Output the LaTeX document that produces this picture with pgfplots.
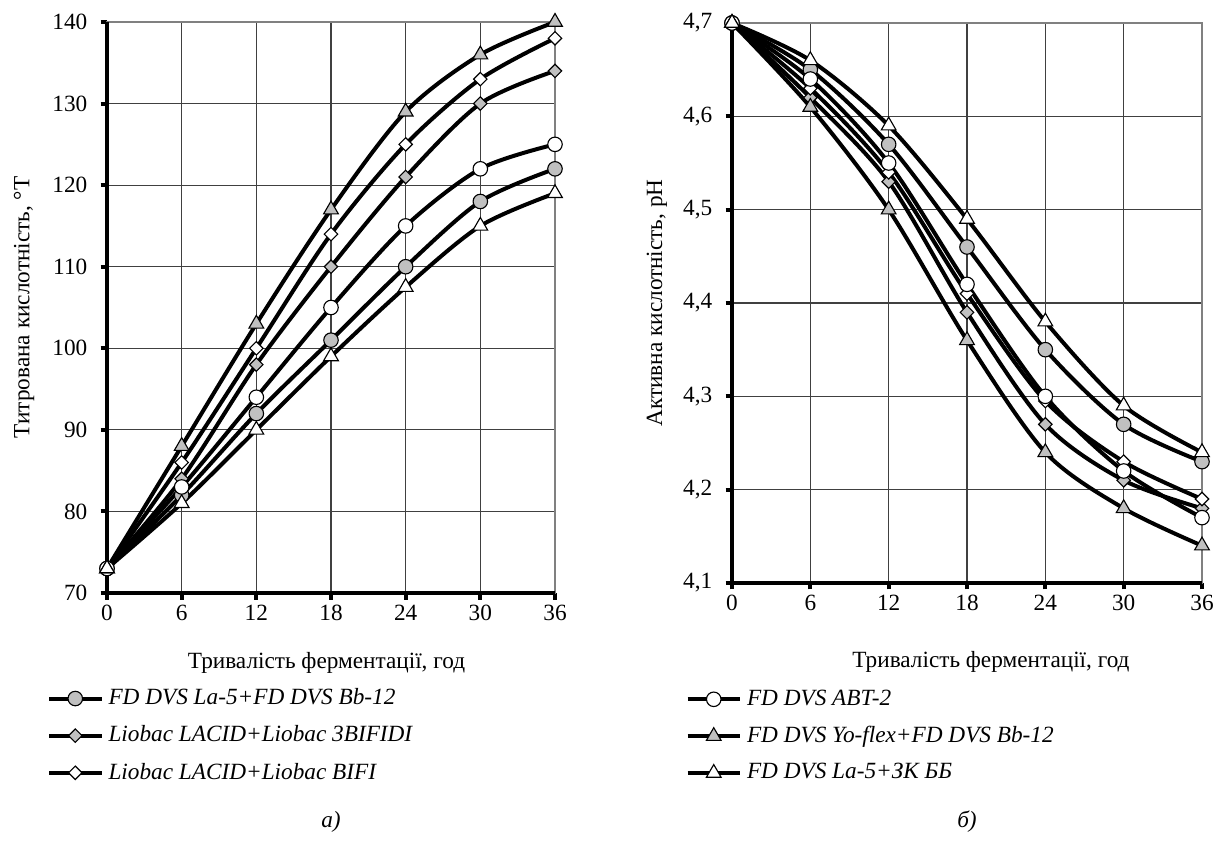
\documentclass[border=0pt]{standalone}
\usepackage{fontspec}
\setmainfont{Liberation Serif}
\usepackage{pgfplots}
\pgfplotsset{compat=1.18}

\definecolor{mgray}{RGB}{192,192,192}
\definecolor{fgray}{RGB}{128,128,128}

\tikzset{mo/.style={solid, draw=black, line width=0.45pt, fill=#1}}

% 1 px of the reference = 0.4pt
\pgfplotsset{
  panel/.style={
    scale only axis, clip=false,
    xmin=0, xmax=36, xtick={0,6,...,36},
    grid=major, major grid style={black!75, line width=0.5pt},
    axis line style={fgray, line width=0.8pt},
    tick pos=left, tick align=outside, major tick length=2.6pt,
    major tick style={black, line width=1.6pt},
    yticklabel style={xshift=-2pt},
    xticklabel style={yshift=1pt},
    /pgf/number format/assume math mode=true,
    legend cell align=left,
    legend style={draw=none, fill=none, inner sep=0pt, font=\itshape,
      row sep=3pt, anchor=north west},
    legend image code/.code={
      \draw[mark repeat=2, mark phase=2, ##1]
        plot coordinates {(0pt,0pt) (10.5pt,0pt) (21pt,0pt)};},
  },
  s/.style={black, line width=1.6pt, smooth, tension=0.5},
  gc/.style={s, mark=*, mark size=2.9pt, mark options={mo=mgray}},
  wc/.style={s, mark=*, mark size=2.9pt, mark options={mo=white}},
  gd/.style={s, mark=square*, mark size=1.9pt, mark options={mo=mgray, rotate=45}},
  wd/.style={s, mark=square*, mark size=1.9pt, mark options={mo=white, rotate=45}},
  gt/.style={s, mark=triangle*, mark size=3.4pt, mark options={mo=mgray}},
  wt/.style={s, mark=triangle*, mark size=3.4pt, mark options={mo=white}},
}

\begin{document}
\fontsize{9.3}{11}\selectfont
\begin{tikzpicture}
\useasboundingbox (0,0) rectangle (487.6pt,-338pt);

% ---- a) titratable acidity
\begin{axis}[panel,
  at={(42.8pt,-8.8pt)}, anchor=north west,
  width=179.2pt, height=228.4pt,
  ymin=70, ymax=140, ytick={70,80,...,140},
  xlabel={Тривалість ферментації, год},
  xlabel style={at={(axis description cs:0.49,-0.1226)}, anchor=center},
  ylabel={Титрована кислотність, °Т},
  ylabel style={at={(axis description cs:-0.185,0.5)}, anchor=center},
  legend style={at={(axis description cs:-0.135,-0.158)}},
]
\draw[black, line width=1.6pt] (rel axis cs:0,1) -- (rel axis cs:0,0) -- (rel axis cs:1,0);

\addplot[gc] coordinates {(0,73) (6,82) (12,92) (18,101) (24,110) (30,118) (36,122)};
\addlegendentry{FD DVS La-5+FD DVS Bb-12}
\addplot[gd] coordinates {(0,73) (6,84) (12,98) (18,110) (24,121) (30,130) (36,134)};
\addlegendentry{Liobac LACID+Liobac 3BIFIDI}
\addplot[wd] coordinates {(0,73) (6,86) (12,100) (18,114) (24,125) (30,133) (36,138)};
\addlegendentry{Liobac LACID+Liobac BIFI}
\addplot[wc, forget plot] coordinates {(0,73) (6,83) (12,94) (18,105) (24,115) (30,122) (36,125)};
\addplot[gt, forget plot] coordinates {(0,73) (6,88) (12,103) (18,117) (24,129) (30,136) (36,140)};
\addplot[wt, forget plot] coordinates {(0,73) (6,81) (12,90) (18,99) (24,107.5) (30,115) (36,119)};

\node[font=\itshape] at (axis description cs:0.5,-0.401) {а)};
\end{axis}

% ---- b) active acidity
\begin{axis}[panel,
  at={(292.8pt,-9.2pt)}, anchor=north west,
  width=188pt, height=224pt,
  ymin=4.1, ymax=4.7, ytick={4.1,4.2,...,4.71},
  yticklabel style={/pgf/number format/.cd, fixed, fixed zerofill, precision=1, use comma},
  xlabel={Тривалість ферментації, год},
  xlabel style={at={(axis description cs:0.551,-0.141)}, anchor=center},
  ylabel={Активна кислотність, рН},
  ylabel style={at={(axis description cs:-0.16,0.5)}, anchor=center},
  legend style={at={(axis description cs:-0.1,-0.181)}},
]
\draw[black, line width=1.6pt] (rel axis cs:0,1) -- (rel axis cs:0,0) -- (rel axis cs:1,0);

\addplot[gc, forget plot] coordinates {(0,4.7) (6,4.65) (12,4.57) (18,4.46) (24,4.35) (30,4.27) (36,4.23)};
\addplot[gd, forget plot] coordinates {(0,4.7) (6,4.62) (12,4.53) (18,4.39) (24,4.27) (30,4.21) (36,4.18)};
\addplot[wd, forget plot] coordinates {(0,4.7) (6,4.63) (12,4.54) (18,4.41) (24,4.295) (30,4.23) (36,4.19)};
\addplot[wc] coordinates {(0,4.7) (6,4.64) (12,4.55) (18,4.42) (24,4.30) (30,4.22) (36,4.17)};
\addlegendentry{FD DVS ABT-2}
\addplot[gt] coordinates {(0,4.7) (6,4.61) (12,4.50) (18,4.36) (24,4.24) (30,4.18) (36,4.14)};
\addlegendentry{FD DVS Yo-flex+FD DVS Bb-12}
\addplot[wt] coordinates {(0,4.7) (6,4.66) (12,4.59) (18,4.49) (24,4.38) (30,4.29) (36,4.24)};
\addlegendentry{FD DVS La-5+ЗК ББ}

\node[font=\itshape] at (axis description cs:0.5,-0.427) {б)};
\end{axis}
\end{tikzpicture}
\end{document}
